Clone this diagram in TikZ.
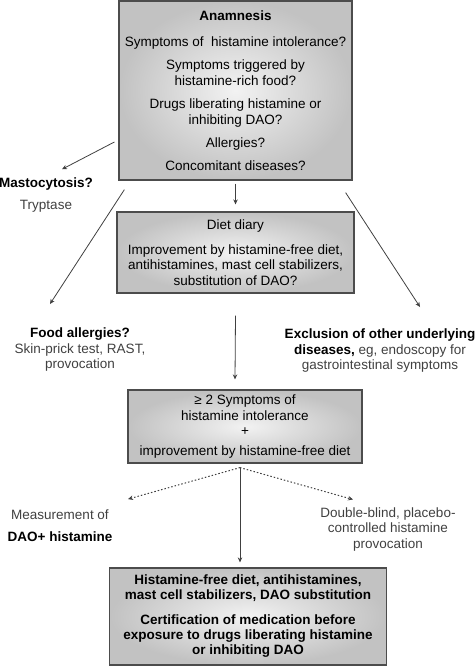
\documentclass[tikz,border=0pt]{standalone}
\usepackage{fontspec}
\setmainfont{Liberation Sans}
\usetikzlibrary{arrows.meta, positioning}

\begin{document}
\begin{tikzpicture}[
        x=1pt, y=1pt,
        node distance=170pt,
        every node/.style={font=\fontsize{13.5}{15.5}\selectfont},
        box/.style={rectangle, draw=black!70, line width=1.2pt, inner color=gray!10,
                    outer color=gray!48, align=center, inner sep=0pt},
        note/.style={align=center, inner sep=0pt, text=black!75},
        arrow/.style={draw=black!75, line width=0.8pt, -{Stealth[length=5pt, width=4.5pt]}},
        dotarrow/.style={arrow, dash pattern=on 1.5pt off 2pt, line width=1pt}
    ]
        \useasboundingbox (0,0) rectangle (474,-666);

        \node[box, minimum width=233pt, minimum height=179pt] (anamnesis) at (235.5,-90.5)
            {{\bfseries Anamnesis}\\[10pt] Symptoms of\ \ histamine intolerance?\\[8pt]
             Symptoms triggered by\\ histamine-rich food?\\[8pt]
             Drugs liberating histamine or\\ inhibiting DAO?\\[8pt]
             Allergies?\\[7pt] Concomitant diseases?};
        \node[box, below of=anamnesis, yshift=8pt, minimum width=237pt, minimum height=81pt] (diary)
            {Diet diary\\[9pt] Improvement by histamine-free diet,\\
             antihistamines, mast cell stabilizers,\\ substitution of DAO?};
        \node[box, below of=diary, xshift=9.5pt, yshift=-4pt, minimum width=234pt, minimum height=73pt] (criteria)
            {≥ 2 Symptoms of\\ histamine intolerance\\ +\\[4pt] improvement by histamine-free diet};
        \node[box, below of=criteria, xshift=3pt, yshift=-20pt, minimum width=277pt, minimum height=97pt,
              font=\fontsize{13.5}{15}\selectfont\bfseries] (therapy)
            {Histamine-free diet, antihistamines,\\ mast cell stabilizers, DAO substitution\\[10pt]
             Certification of medication before\\ exposure to drugs liberating histamine\\ or inhibiting DAO};

        \node[note, left of=anamnesis, xshift=-19.5pt, yshift=-104.5pt] (masto)
            {\textcolor{black}{\bfseries Mastocytosis?}\\[7pt] Tryptase};
        \node[note, left of=diary, xshift=14.5pt, yshift=-97.5pt] (food)
            {\textcolor{black}{\bfseries Food allergies?}\\ Skin-prick test, RAST,\\ provocation};
        \node[note, right of=diary, xshift=-25.5pt, yshift=-98.5pt] (exclusion)
            {\textcolor{black}{\bfseries Exclusion of other underlying}\\
             \textcolor{black}{\bfseries diseases,} eg, endoscopy for\\ gastrointestinal symptoms};
        \node[note, left of=criteria, xshift=-15pt, yshift=-99pt] (measure)
            {Measurement of\\[7pt] \textcolor{black}{\bfseries DAO+ histamine}};
        \node[note, right of=criteria, xshift=-27pt, yshift=-103pt] (provoke)
            {Double-blind, placebo-\\ controlled histamine\\ provocation};

        \draw[arrow] ([yshift=-3pt]anamnesis.south) -- ([yshift=7pt]diary.north);
        \draw[arrow] ([xshift=-4pt, yshift=-51.5pt]anamnesis.west) -- ([xshift=16pt, yshift=8pt]masto.north);
        \draw[arrow] ([xshift=6pt, yshift=-9pt]anamnesis.south west) -- ([xshift=-30pt, yshift=24pt]food.north);
        \draw[arrow] ([xshift=-7pt, yshift=-12pt]anamnesis.south east) -- ([xshift=40pt, yshift=22pt]exclusion.north);
        \draw[arrow] ([yshift=-22pt]diary.south) -- ([xshift=-10pt, yshift=10pt]criteria.north);

        \draw[dotarrow] ([xshift=-5pt, yshift=-4pt]criteria.south) -- ([xshift=68pt, yshift=10pt]measure.north);
        \draw[dotarrow] ([xshift=-5pt, yshift=-4pt]criteria.south) -- ([xshift=-35pt, yshift=8pt]provoke.north);
        \draw[arrow] ([xshift=-5pt, yshift=-4pt]criteria.south) -- ([xshift=-8pt, yshift=5pt]therapy.north);
\end{tikzpicture}
\end{document}
